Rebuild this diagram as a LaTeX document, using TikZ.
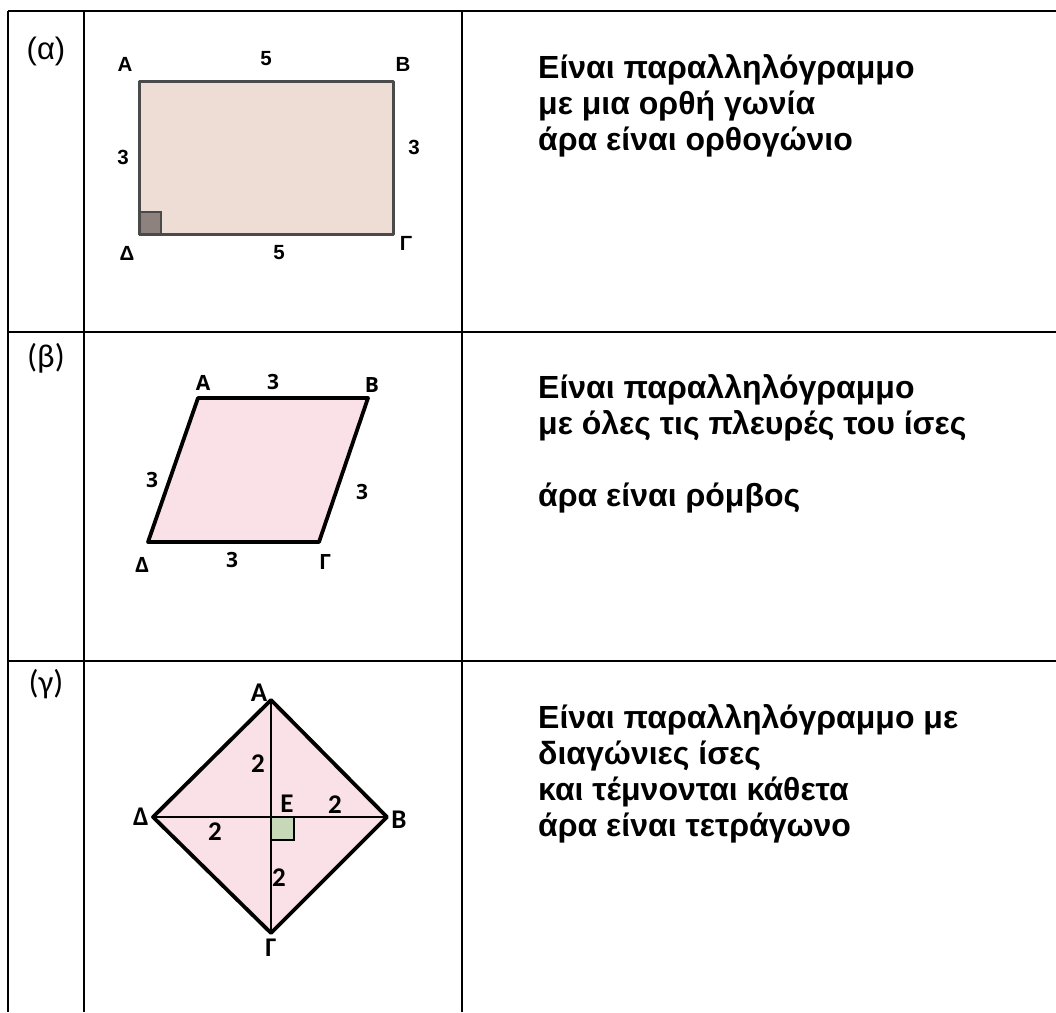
\documentclass[tikz,border=0pt]{standalone}
\usepackage{fontspec}
\setmainfont{Liberation Sans}
\newfontfamily\carl{Carlito}
\newfontfamily\opens{Open Sans}
\begin{document}
\begin{tikzpicture}[x=1pt,y=-1pt,
  tbl/.style={line width=2.5pt,black},
  labA/.style={font=\bfseries\fontsize{20.5}{20.5}\selectfont,inner sep=0pt},
  labB/.style={font=\opens\bfseries\fontsize{21}{21}\selectfont,inner sep=0pt},
  labC/.style={font=\carl\bfseries\fontsize{27}{27}\selectfont,inner sep=0pt},
  rowlabA/.style={font=\fontsize{31}{31}\selectfont,inner sep=0pt},
  rowlab/.style={font=\carl\fontsize{33}{33}\selectfont,inner sep=0pt},
  txt/.style={font=\bfseries\fontsize{32}{32}\selectfont,anchor=base west,inner sep=0pt},
  shapeA/.style={fill=rectfill,draw=rectedge,line width=3pt,line join=round},
  shapeB/.style={fill=pinkfill,draw=black,line width=3.8pt,line join=round}]
\definecolor{rectfill}{HTML}{EEDDD4}
\definecolor{rectedge}{HTML}{4A4A4A}
\definecolor{anglefill}{HTML}{8E827E}
\definecolor{pinkfill}{HTML}{FAE1E7}
\definecolor{greenfill}{HTML}{C6D8B8}
\useasboundingbox[fill=white] (0,0) rectangle (1056,1012);
% table grid
\coordinate (tl) at (8,11);
\coordinate (tr) at (1056,11);
\coordinate (r1l) at (8,332);
\coordinate (r1r) at (1056,332);
\coordinate (r2l) at (8,661);
\coordinate (r2r) at (1056,661);
\coordinate (c0t) at (8,11);
\coordinate (c0b) at (8,1012);
\coordinate (c1t) at (84,11);
\coordinate (c1b) at (84,1012);
\coordinate (c2t) at (462,11);
\coordinate (c2b) at (462,1012);
\draw[tbl] (tl) -- (tr);
\draw[tbl] (r1l) -- (r1r);
\draw[tbl] (r2l) -- (r2r);
\draw[tbl] (c0t) -- (c0b);
\draw[tbl] (c1t) -- (c1b);
\draw[tbl] (c2t) -- (c2b);
% row labels
\node[rowlabA] (la) at (46,51) {(α)};
\node[rowlab] (lb) at (46,358) {(β)};
\node[rowlab] (lg) at (46,684) {(γ)};
% ---- row 1: rectangle
\coordinate (A1) at (139,81);
\coordinate (B1) at (393,81);
\coordinate (G1) at (393,234);
\coordinate (D1) at (139,234);
\filldraw[shapeA] (A1) -- (B1) -- (G1) -- (D1) -- cycle;
\coordinate (q1a) at (139,212);
\coordinate (q1b) at (161,234);
\filldraw[fill=anglefill,draw=rectedge,line width=2pt] (q1a) rectangle (q1b);
\draw[rectedge,line width=3pt] (D1) -- (G1);
\draw[rectedge,line width=3pt] (A1) -- (D1);
\node[labA] (tA1) at (125,64) {A};
\node[labA] (t51) at (266,59) {5};
\node[labA] (tB1) at (403,64) {B};
\node[labA] (t31) at (123,157) {3};
\node[labA] (t32) at (414,147) {3};
\node[labA] (tD1) at (127,253) {Δ};
\node[labA] (t52) at (279,253) {5};
\node[labA] (tG1) at (406,243) {Γ};
\node[txt] (s11) at (538,78) {Είναι παραλληλόγραμμο};
\node[txt] (s12) at (538,114) {με μια ορθή γωνία};
\node[txt] (s13) at (538,150) {άρα είναι ορθογώνιο};
% ---- row 2: rhombus
\coordinate (A2) at (198,398);
\coordinate (B2) at (368,398);
\coordinate (G2) at (319,542);
\coordinate (D2) at (148,542);
\filldraw[shapeB] (A2) -- (B2) -- (G2) -- (D2) -- cycle;
\node[labB] (tA2) at (203,383) {A};
\node[labB] (t3a) at (273,382) {3};
\node[labB] (tB2) at (372,385) {B};
\node[labB] (t3b) at (152,480) {3};
\node[labB] (t3c) at (362,492) {3};
\node[labB] (tD2) at (142,565) {Δ};
\node[labB] (t3d) at (232,560) {3};
\node[labB] (tG2) at (325,562) {Γ};
\node[txt] (s21) at (538,398) {Είναι παραλληλόγραμμο};
\node[txt] (s22) at (538,434) {με όλες τις πλευρές του ίσες};
\node[txt] (s23) at (538,506) {άρα είναι ρόμβος};
% ---- row 3: square
\coordinate (A3) at (271,700);
\coordinate (B3) at (387,817);
\coordinate (G3) at (271,933);
\coordinate (D3) at (153,817);
\coordinate (E3) at (271,817);
\filldraw[shapeB] (A3) -- (B3) -- (G3) -- (D3) -- cycle;
\coordinate (q3b) at (294,840);
\filldraw[fill=greenfill,draw=black,line width=2pt] (E3) rectangle (q3b);
\draw[black,line width=2.5pt] (A3) -- (G3);
\draw[black,line width=2.5pt] (D3) -- (B3);
\node[labC] (tA3) at (259,693) {A};
\node[labC] (t2a) at (258,764) {2};
\node[labC] (tE3) at (287,804) {E};
\node[labC] (t2b) at (335,805) {2};
\node[labC] (tB3) at (399,820) {B};
\node[labC] (tD3) at (141,817) {Δ};
\node[labC] (t2c) at (215,832) {2};
\node[labC] (t2d) at (279,878) {2};
\node[labC] (tG3) at (271,948) {Γ};
\node[txt] (s31) at (538,728) {Είναι παραλληλόγραμμο με};
\node[txt] (s32) at (538,764) {διαγώνιες ίσες};
\node[txt] (s33) at (538,800) {και τέμνονται κάθετα};
\node[txt] (s34) at (538,836) {άρα είναι τετράγωνο};
\end{tikzpicture}
\end{document}
